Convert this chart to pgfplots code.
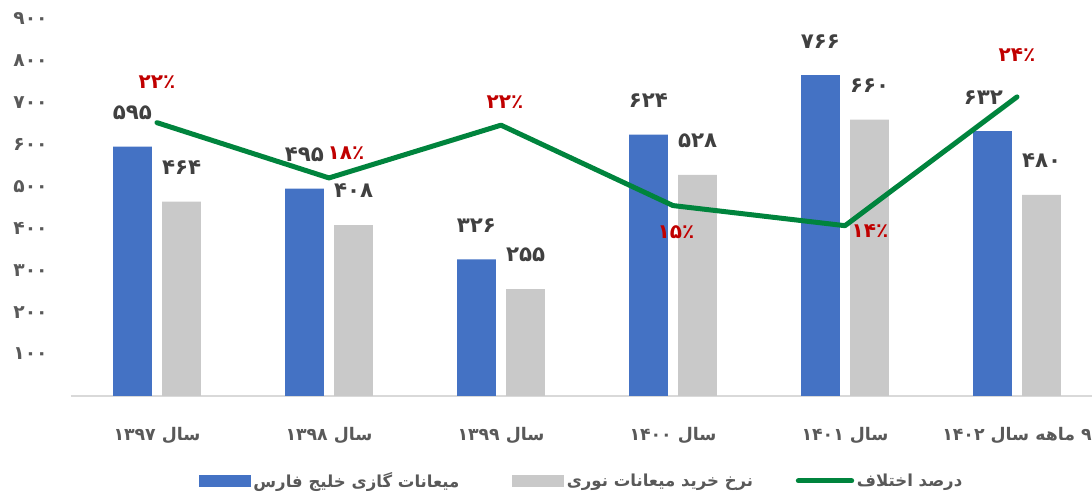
\documentclass[border=0pt]{standalone}
\usepackage{fontspec}
\usepackage{pgfplots}
\usepackage{pgfplotstable}
\pgfplotsset{compat=1.18}
\TeXXeTstate=1
\newfontfamily\fa[Script=Arabic]{DejaVu Sans}
\definecolor{barblue}{HTML}{4472C4}
\definecolor{bargray}{HTML}{C9C9C9}
\definecolor{linegreen}{HTML}{00843D}
\definecolor{labred}{HTML}{C00000}
\definecolor{labdark}{HTML}{404040}
\definecolor{axtext}{HTML}{595959}
\definecolor{basegray}{HTML}{D9D9D9}

% bars: value, label, label x shift (pt)
\pgfplotstableread{
x blue bl bdx gray gl
0 595 ۵۹۵ 0 464 ۴۶۴
1 495 ۴۹۵ 0 408 ۴۰۸
2 326 ۳۲۶ 0 255 ۲۵۵
3 624 ۶۲۴ 0 528 ۵۲۸
4 766 ۷۶۶ 0 660 ۶۶۰
5 632 ۶۳۲ -6.75 480 ۴۸۰
}\bars

% difference in percent, label, label offsets (pt)
\pgfplotstableread{
x p pl dx dy
0 22.0 ۲۲٪ 0 30
1 17.6 ۱۸٪ 12.75 18.75
2 21.8 ۲۲٪ 3 17.25
3 15.4 ۱۵٪ 2.25 -20.25
4 13.8 ۱۴٪ 18.75 -3.75
5 24.05 ۲۴٪ 0 31.5
}\diff

\begin{document}
\begin{tikzpicture}
\begin{axis}[scale only axis,width=774pt,height=282.7pt,
 xmin=-0.5,xmax=5.5,ymin=0,ymax=900,clip=false,
 axis x line*=bottom,axis y line*=left,
 x axis line style={draw=basegray,line width=1.5pt,-},
 y axis line style={draw=none},
 major tick length=0pt,
 xtick={0,...,5},
 xticklabels={{\beginR سال ۱۳۹۷\endR},{\beginR سال ۱۳۹۸\endR},{\beginR سال ۱۳۹۹\endR},
  {\beginR سال ۱۴۰۰\endR},{\beginR سال ۱۴۰۱\endR},{\beginR ۹ ماهه سال ۱۴۰۲\endR}},
 xticklabel style={anchor=center,yshift=-30pt,text=axtext,font=\fa\bfseries\fontsize{13}{13}\selectfont},
 ytick={100,200,...,900},
 yticklabels={۱۰۰,۲۰۰,۳۰۰,۴۰۰,۵۰۰,۶۰۰,۷۰۰,۸۰۰,۹۰۰},
 yticklabel style={anchor=east,xshift=-14pt,text=axtext,font=\fa\bfseries\fontsize{14}{14}\selectfont},
 legend columns=3,
 legend style={at={(0.495,0)},anchor=center,yshift=-63.75pt,draw=none,fill=none,
  font=\fa\bfseries\fontsize{12.4}{13}\selectfont,text=axtext,
  /tikz/column 2/.style={column sep=37.5pt},
  /tikz/column 4/.style={column sep=30pt}},
 point meta=explicit symbolic,
 nodes near coords,
 nodes near coords align={center},
]
\addplot[ybar,bar width=29pt,bar shift=-18.4pt,fill=barblue,draw=none,
 visualization depends on={\thisrow{bdx}\as\dx},
 every node near coord/.append style={anchor=center,yshift=25.5pt,xshift=-18.4pt+\dx pt,
  text=labdark,font=\fa\bfseries\fontsize{16}{16}\selectfont},
 legend image code/.code={\fill[barblue] (0pt,-4.5pt) rectangle (39pt,4.5pt);}]
 table[x=x,y=blue,meta=bl]{\bars};
\addlegendentry{\beginR میعانات گازی خلیج فارس\endR}
\addplot[ybar,bar width=29pt,bar shift=18.4pt,fill=bargray,draw=none,
 every node near coord/.append style={anchor=center,yshift=25.5pt,xshift=18.4pt,
  text=labdark,font=\fa\bfseries\fontsize{16}{16}\selectfont},
 legend image code/.code={\fill[bargray] (0pt,-4.5pt) rectangle (39pt,4.5pt);}]
 table[x=x,y=gray,meta=gl]{\bars};
\addlegendentry{\beginR نرخ خرید میعانات نوری\endR}
\addlegendimage{legend image code/.code={\draw[linegreen,line width=3.75pt,line cap=round] (0pt,0pt) -- (40pt,0pt);}}
\addlegendentry{\beginR درصد اختلاف\endR}
\end{axis}
\begin{axis}[scale only axis,width=774pt,height=282.7pt,
 xmin=-0.5,xmax=5.5,ymin=0.25,ymax=30.25,clip=false,
 axis lines=none,ticks=none]
\addplot[linegreen,line width=3.75pt,line join=round,line cap=round,mark=none,
 point meta=explicit symbolic,nodes near coords,nodes near coords align={center},
 visualization depends on={\thisrow{dx}\as\dx},
 visualization depends on={\thisrow{dy}\as\dy},
 every node near coord/.append style={anchor=center,xshift=\dx pt,yshift=\dy pt,
  text=labred,font=\fa\bfseries\fontsize{15}{15}\selectfont}]
 table[x=x,y=p,meta=pl]{\diff};
\end{axis}
\pgfresetboundingbox
\useasboundingbox (-53.25pt,-77.3pt) rectangle (765.75pt,296.95pt);
\end{tikzpicture}
\end{document}
